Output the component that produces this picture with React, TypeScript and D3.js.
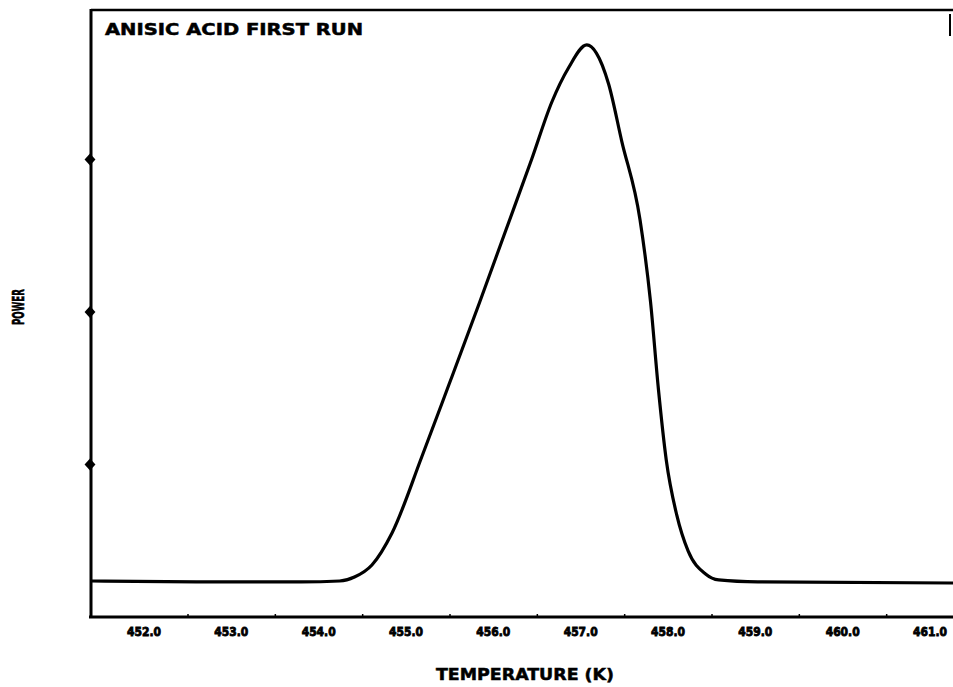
import React from "react";
import * as d3 from "d3";

// temperature (K) tick labels on the bottom axis
const tempTicks = [452, 453, 454, 455, 456, 457, 458, 459, 460, 461];
// power ticks on the left axis (only the inner ones carry a mark)
const powerTicks = [1, 2, 3];

// thermogram: temperature (K) / power (arb.)
const temperature = [
  451.4, 452.6, 453.8, 454.24, 454.41, 454.61, 454.84, 455.18, 455.49, 455.84,
  456.14, 456.44, 456.67, 456.86, 457.07, 457.18, 457.32, 457.47, 457.68, 457.8,
  457.89, 457.98, 458.1, 458.23, 458.43, 458.58, 459.03, 461.3,
];
const power = [
  0.236, 0.23, 0.23, 0.236, 0.262, 0.341, 0.551, 1.049, 1.521, 2.059,
  2.531, 3.003, 3.377, 3.6, 3.751, 3.698, 3.495, 3.121, 2.603, 2.066,
  1.495, 1.03, 0.669, 0.433, 0.282, 0.243, 0.23, 0.223,
];

const W = 953;
const H = 687;
const left = 91;
const top = 10;
const axisY = 617;

const App = () => {
  const x = d3.scaleLinear().domain([452, 461]).range([144, 930]);
  const y = d3.scaleLinear().domain([0, 4]).range([axisY, axisY - 4 * 152.5]);

  const pts: [number, number][] = temperature.map((t, i) => [t, power[i]]);
  const line = d3
    .line<[number, number]>()
    .x((d) => x(d[0]))
    .y((d) => y(d[1]))
    .curve(d3.curveMonotoneX);

  const diamond = d3.symbol().type(d3.symbolDiamond).size(40)();
  const font = "'DejaVu Sans', 'Liberation Sans', sans-serif";

  return (
    <svg
      width={W}
      height={H}
      style={{ position: "absolute", left: 0, top: 0, background: "#fff" }}
    >
      <defs>
        <clipPath id="plot">
          <rect x={left} y={top} width={W - left} height={axisY - top} />
        </clipPath>
      </defs>

      {/* frame */}
      <line x1={left} x2={W} y1={top} y2={top} stroke="#000" strokeWidth={2.5} />
      <line x1={W - 3} x2={W - 3} y1={14} y2={36} stroke="#000" strokeWidth={2} />
      <line x1={left} x2={left} y1={top - 1} y2={axisY + 1} stroke="#000" strokeWidth={3} />
      <line x1={left - 2} x2={W} y1={axisY} y2={axisY} stroke="#000" strokeWidth={3} />

      {/* y ticks */}
      {powerTicks.map((p) => (
        <path key={p} d={diamond ?? ""} transform={`translate(${left - 1},${y(p)}) scale(1.6,1.0)`} fill="#000" />
      ))}

      {/* x tick labels */}
      {tempTicks.map((t) => (
        <g key={t}>
          <line x1={x(t) + 44} x2={x(t) + 44} y1={axisY - 3} y2={axisY} stroke="#000" strokeWidth={1.5} />
          <text
            x={x(t)}
            y={636}
            textAnchor="middle"
            fontFamily={font}
            fontWeight="bold"
            fontSize={13}
            stroke="#000"
            strokeWidth={0.9}
            textLength={34}
            lengthAdjust="spacingAndGlyphs"
          >
            {t.toFixed(1)}
          </text>
        </g>
      ))}

      {/* curve */}
      <path
        d={line(pts) ?? ""}
        fill="none"
        stroke="#000"
        strokeWidth={3.2}
        strokeLinejoin="round"
        clipPath="url(#plot)"
      />

      {/* title */}
      <text
        x={105}
        y={35}
        fontFamily={font}
        fontWeight="bold"
        fontSize={16}
        stroke="#000"
        strokeWidth={0.5}
        textLength={258}
        lengthAdjust="spacingAndGlyphs"
      >
        ANISIC ACID FIRST RUN
      </text>

      {/* axis titles */}
      <text
        transform="translate(24,307) rotate(-90)"
        textAnchor="middle"
        fontFamily={font}
        fontWeight="bold"
        fontSize={16}
        stroke="#000"
        strokeWidth={0.6}
        textLength={36}
        lengthAdjust="spacingAndGlyphs"
      >
        POWER
      </text>
      <text
        x={525}
        y={680}
        textAnchor="middle"
        fontFamily={font}
        fontWeight="bold"
        fontSize={16}
        stroke="#000"
        strokeWidth={0.5}
        textLength={178}
        lengthAdjust="spacingAndGlyphs"
      >
        TEMPERATURE (K)
      </text>
    </svg>
  );
};

export default App;
